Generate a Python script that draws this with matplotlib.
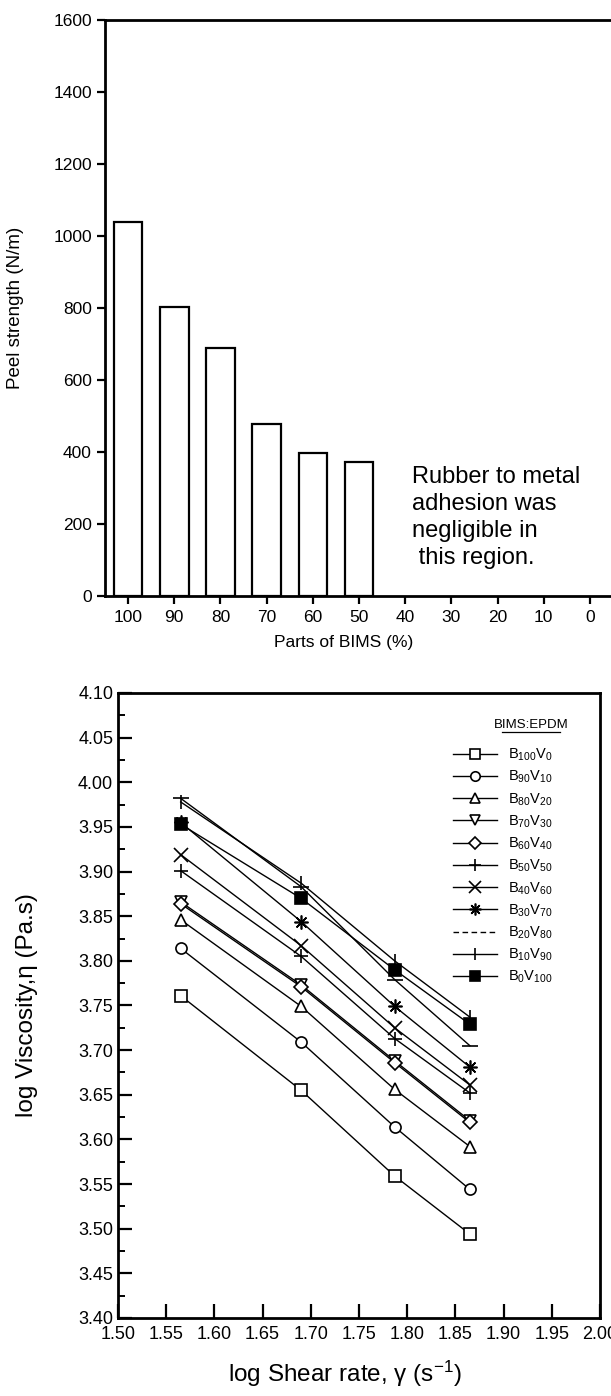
import matplotlib
matplotlib.use('Agg')
import matplotlib.pyplot as plt
from matplotlib.lines import Line2D
from matplotlib.ticker import MultipleLocator, FixedLocator, FormatStrFormatter

plt.rcParams['font.family'] = ['Liberation Sans', 'DejaVu Sans']
plt.rcParams['mathtext.fontset'] = 'custom'
plt.rcParams['mathtext.rm'] = 'Liberation Sans'
plt.rcParams['mathtext.it'] = 'Liberation Sans:italic'
plt.rcParams['mathtext.default'] = 'regular'

# ---- top chart data ----
parts = [100, 90, 80, 70, 60, 50]
peel = [1038, 803, 688, 478, 398, 372]
parts_ticks = [100, 90, 80, 70, 60, 50, 40, 30, 20, 10, 0]
note = "Rubber to metal\nadhesion was\nnegligible in\n this region."

# ---- bottom chart data ----
shear = [1.565, 1.690, 1.787, 1.865]
b100v0 = [3.761, 3.655, 3.559, 3.494]
b90v10 = [3.814, 3.709, 3.614, 3.544]
b80v20 = [3.846, 3.749, 3.656, 3.592]
b70v30 = [3.866, 3.773, 3.688, 3.621]
b60v40 = [3.864, 3.771, 3.686, 3.619]
b50v50 = [3.901, 3.805, 3.713, 3.652]
b40v60 = [3.919, 3.817, 3.725, 3.661]
b30v70 = [3.955, 3.844, 3.749, 3.681]
b20v80 = [3.982, 3.883, 3.779, 3.705]
b10v90 = [3.978, 3.887, 3.800, 3.737]
b0v100 = [3.953, 3.870, 3.790, 3.729]
series_labels = ['B$_{100}$V$_{0}$', 'B$_{90}$V$_{10}$', 'B$_{80}$V$_{20}$',
                 'B$_{70}$V$_{30}$', 'B$_{60}$V$_{40}$', 'B$_{50}$V$_{50}$',
                 'B$_{40}$V$_{60}$', 'B$_{30}$V$_{70}$', 'B$_{20}$V$_{80}$',
                 'B$_{10}$V$_{90}$', 'B$_{0}$V$_{100}$']
series = [b100v0, b90v10, b80v20, b70v30, b60v40, b50v50,
          b40v60, b30v70, b20v80, b10v90, b0v100]

W, H = 611, 1396
fig = plt.figure(figsize=(W / 100, H / 100), dpi=100)

def ax_rect(x0, y0, x1, y1):
    return [x0 / W, 1 - y1 / H, (x1 - x0) / W, (y1 - y0) / H]

# ================= top chart =================
ax1 = fig.add_axes(ax_rect(105, 20, 613, 596))
ax1.bar(parts, peel, width=6.2, facecolor='white', edgecolor='black', linewidth=1.6)
ax1.set_xlim(105, -5)
ax1.set_ylim(0, 1600)
ax1.xaxis.set_major_locator(FixedLocator(parts_ticks))
ax1.set_xticklabels([str(p) for p in parts_ticks])
ax1.yaxis.set_major_locator(MultipleLocator(200))
ax1.tick_params(axis='both', direction='out', length=6, width=1.6, labelsize=12.5)
ax1.tick_params(axis='x', pad=4)
for s in ['left', 'bottom', 'top']:
    ax1.spines[s].set_linewidth(2)
ax1.spines['right'].set_visible(False)
ax1.set_ylabel('Peel strength (N/m)', fontsize=13.5)
ax1.yaxis.set_label_coords(-0.16, 0.5)
ax1.set_xlabel('Parts of BIMS (%)', fontsize=12.5)
ax1.xaxis.set_label_coords(0.47, -0.068)
ax1.text(38.5, 218, note, fontsize=17, ha='left', va='center', linespacing=1.3)

# ================= bottom chart =================
ax2 = fig.add_axes(ax_rect(118, 693, 600, 1318))
styles = [
    dict(marker='s', mfc='white'),
    dict(marker='o', mfc='white'),
    dict(marker='^', mfc='white'),
    dict(marker='v', mfc='white'),
    dict(marker='D', mfc='white', markersize=7),
    dict(marker='+', markersize=10),
    dict(marker='x', markersize=10),
    dict(marker=(8, 2, 0), markersize=10),
    dict(marker='_', markersize=11),
    dict(marker='|', markersize=10),
    dict(marker='s', mfc='black'),
]
for vals, lab, st in zip(series, series_labels, styles):
    kw = dict(color='black', linewidth=1.0, markersize=8, mec='black', mew=1.2)
    kw.update(st)
    ax2.plot(shear, vals, label=lab, **kw)

ax2.set_xlim(1.50, 2.00)
ax2.set_ylim(3.40, 4.10)
ax2.xaxis.set_major_locator(MultipleLocator(0.05))
ax2.yaxis.set_major_locator(MultipleLocator(0.05))
ax2.yaxis.set_minor_locator(MultipleLocator(0.025))
ax2.xaxis.set_major_formatter(FormatStrFormatter('%.2f'))
ax2.yaxis.set_major_formatter(FormatStrFormatter('%.2f'))
ax2.tick_params(axis='both', which='major', direction='in', length=10, width=1.6, labelsize=13)
ax2.tick_params(axis='y', which='minor', direction='in', length=5, width=1.4)
ax2.tick_params(axis='x', pad=6)
for s in ax2.spines.values():
    s.set_linewidth(2)
ax2.set_ylabel('log Viscosity,\u03b7 (Pa.s)', fontsize=17.5)
ax2.yaxis.set_label_coords(-0.165, 0.5)
ax2.set_xlabel('log Shear rate, \u03b3 (s$^{-1}$)', fontsize=17.5)
ax2.xaxis.set_label_coords(0.47, -0.066)

handles, labels = ax2.get_legend_handles_labels()
handles[8] = Line2D([], [], color='black', linewidth=1.0, linestyle=(0, (4, 2.5)))
leg = ax2.legend(handles, labels, loc='upper left', bbox_to_anchor=(0.695, 0.914),
                 frameon=False, fontsize=10.5, handlelength=3.0, handletextpad=0.8,
                 labelspacing=0.40, borderpad=0, borderaxespad=0, markerscale=0.85)
ax2.text(0.857, 0.949, 'BIMS:EPDM', transform=ax2.transAxes, fontsize=9.5,
         ha='center', va='center')
fig.add_artist(Line2D([0.796, 0.918], [0.938, 0.938], transform=ax2.transAxes,
                      color='black', linewidth=0.9))

fig.savefig('out.png', dpi=100)
